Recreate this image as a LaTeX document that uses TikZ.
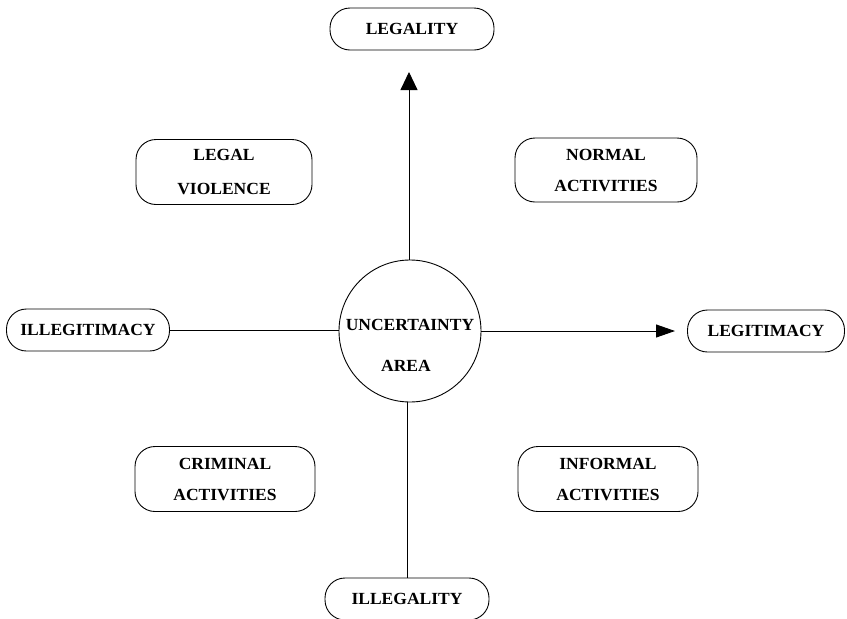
\documentclass[tikz,border=0pt]{standalone}
\usepackage{fontspec}
\setmainfont{Liberation Serif}[FakeStretch=1.03]
\usetikzlibrary{arrows.meta}
\begin{document}
\begin{tikzpicture}[x=1pt,y=-1pt,
  every node/.style={font=\fontsize{17}{31}\selectfont\bfseries},
  capsule/.style={draw,line width=0.9pt,rounded corners=20pt,minimum height=42pt,inner sep=0pt},
  quad/.style={draw,line width=0.9pt,rounded corners=20pt,minimum width=178pt,minimum height=64pt,inner sep=0pt,align=center},
  conn/.style={line width=0.9pt},
  lbl/.style={inner sep=0pt}]
\useasboundingbox (0,0) rectangle (847,619);
% axis end boxes
\node[capsule,minimum width=164pt] (legality) at (412,29) {LEGALITY};
\node[capsule,minimum width=164pt] (illegality) at (407,599) {ILLEGALITY};
\node[capsule,minimum width=163pt] (illegitimacy) at (88,330) {ILLEGITIMACY};
\node[capsule,minimum width=157pt] (legitimacy) at (766,331) {LEGITIMACY};
% quadrant boxes
\node[quad,minimum width=176pt,minimum height=65pt] (legal) at (224,172) {LEGAL\\[-2pt]\rule{0pt}{34pt}VIOLENCE};
\node[quad,minimum width=182pt] (normal) at (606,170) {NORMAL\\ACTIVITIES};
\node[quad,minimum width=180pt,minimum height=65pt] (criminal) at (225,479) {CRIMINAL\\ACTIVITIES};
\node[quad,minimum width=180pt,minimum height=65pt] (informal) at (608,479) {INFORMAL\\ACTIVITIES};
% centre
\node[draw,circle,line width=0.9pt,minimum size=142pt,inner sep=0pt] (area) at (410,331) {};
\node[lbl] (unc) at (410,325) {UNCERTAINTY};
\node[lbl] (areatxt) at (406,366) {AREA};
% connectors
\coordinate (uptip) at (409,72);
\coordinate (righttip) at (675,331);
\draw[conn,-{Triangle[length=18pt,width=17pt]}] (area.north -| uptip) -- (uptip);
\draw[conn,-{Triangle[length=19pt,width=13pt]}] (area.east) -- (righttip);
\draw[conn] (illegitimacy.east) -- (illegitimacy.east -| area.west);
\draw[conn] (illegality.north |- area.south) -- (illegality.north);
\end{tikzpicture}
\end{document}
